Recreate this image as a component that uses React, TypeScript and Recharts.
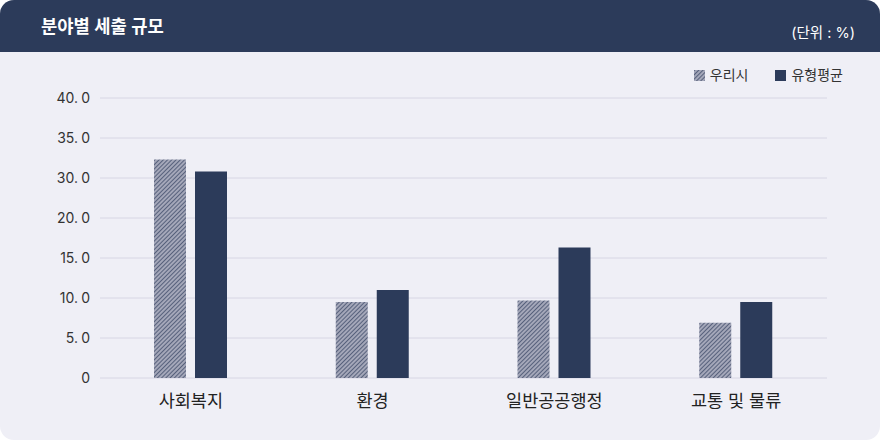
import React from "react";
import { BarChart, Bar, XAxis, YAxis, CartesianGrid } from "recharts";

const CATEGORIES = ["사회복지", "환경", "일반공공행정", "교통 및 물류"];
const OUR_CITY = [32.3, 9.5, 9.7, 6.9];
const TYPE_AVG = [30.8, 11.0, 16.3, 9.5];
const Y_TICKS = [0, 5, 10, 15, 20, 30, 35, 40];
const SERIES_NAMES = ["우리시", "유형평균"];
const TITLE = "분야별 세출 규모";
const UNIT = "(단위 : %)";

const NAVY = "#2c3b5a";
const HATCH_BG = "#a4a7b9";
const CARD_BG = "#efeff6";
const GRID = "#d7d6e4";
const FONT = "Inter, 'Noto Sans CJK KR', 'Noto Sans', sans-serif";

const data = CATEGORIES.map((c, i) => ({
  name: c,
  our: OUR_CITY[i],
  avg: TYPE_AVG[i],
}));

// Axis scale whose listed ticks are evenly spaced (piecewise linear between ticks)
function tickScale(ticks: number[], d0?: number[], r0?: number[]): any {
  let dom = d0 ? d0.slice() : [ticks[0], ticks[ticks.length - 1]];
  let rng = r0 ? r0.slice() : [0, 1];
  const n = ticks.length - 1;
  const frac = (v: number) => {
    if (v <= ticks[0]) return (v - ticks[0]) / (ticks[1] - ticks[0]) / n;
    let i = 0;
    while (i < n - 1 && v > ticks[i + 1]) i++;
    return (i + (v - ticks[i]) / (ticks[i + 1] - ticks[i])) / n;
  };
  const s: any = (v: number) => rng[0] + (rng[1] - rng[0]) * frac(Number(v));
  s.domain = (d?: number[]) => {
    if (d === undefined) return dom.slice();
    dom = d.slice();
    return s;
  };
  s.range = (r?: number[]) => {
    if (r === undefined) return rng.slice();
    rng = r.slice();
    return s;
  };
  s.copy = () => tickScale(ticks, dom, rng);
  s.ticks = () => ticks.slice();
  s.invert = (px: number) => {
    const f = (px - rng[0]) / (rng[1] - rng[0]);
    const pos = Math.max(0, Math.min(n, f * n));
    const i = Math.min(n - 1, Math.floor(pos));
    return ticks[i] + (pos - i) * (ticks[i + 1] - ticks[i]);
  };
  return s;
}

const yScale = tickScale(Y_TICKS);

const HatchDefs = ({ id }: { id: string }) => (
  <defs>
    <pattern
      id={id}
      patternUnits="userSpaceOnUse"
      width="3"
      height="3"
      patternTransform="rotate(45)"
    >
      <rect width="3" height="3" fill={HATCH_BG} />
      <line x1="0" y1="0" x2="0" y2="3" stroke={NAVY} strokeWidth="1.3" />
    </pattern>
  </defs>
);

const YTick = (props: any) => {
  const { x, y, payload } = props;
  const v = Number(payload.value);
  const label = v === 0 ? "0" : v.toFixed(1);
  const dot = label.indexOf(".");
  return (
    <text
      x={x}
      y={y}
      dy="0.355em"
      textAnchor="end"
      fill="#333"
      fontSize={14}
      fontFamily={FONT}
    >
      {dot < 0 ? (
        label
      ) : (
        <>
          <tspan>{label.slice(0, dot + 1)}</tspan>
          <tspan dx={3.5}>{label.slice(dot + 1)}</tspan>
        </>
      )}
    </text>
  );
};

export default function App() {
  return (
    <div
      style={{
        position: "fixed",
        left: 0,
        top: 0,
        width: 880,
        height: 440,
        background: "#ffffff",
      }}
    >
      <div
        style={{
          position: "absolute",
          left: 0,
          top: 0,
          width: 880,
          height: 440,
          borderRadius: 14,
          overflow: "hidden",
          background: CARD_BG,
          fontFamily: FONT,
        }}
      >
        <div
          style={{
            position: "absolute",
            left: 0,
            top: 0,
            width: 880,
            height: 52,
            background: NAVY,
          }}
        />
        <div
          style={{
            position: "absolute",
            left: 41,
            top: 14,
            lineHeight: "26px",
            fontSize: 17.7,
            fontWeight: 600,
            color: "#ffffff",
            whiteSpace: "nowrap",
          }}
        >
          {TITLE}
        </div>
        <div
          style={{
            position: "absolute",
            right: 25,
            top: 23,
            lineHeight: "20px",
            fontSize: 14.5,
            color: "#ffffff",
            whiteSpace: "nowrap",
          }}
        >
          {UNIT}
        </div>

        <div
          style={{
            position: "absolute",
            top: 65,
            right: 37,
            display: "flex",
            alignItems: "center",
            fontSize: 14,
            color: "#333",
            whiteSpace: "nowrap",
            lineHeight: "20px",
          }}
        >
          <svg width="11" height="11" style={{ marginRight: 5 }}>
            <HatchDefs id="legendHatch" />
            <rect width="11" height="11" fill="url(#legendHatch)" />
          </svg>
          <span>{SERIES_NAMES[0]}</span>
          <span
            style={{
              display: "inline-block",
              width: 11,
              height: 11,
              background: NAVY,
              marginLeft: 27,
              marginRight: 5,
            }}
          />
          <span>{SERIES_NAMES[1]}</span>
        </div>

        <div style={{ position: "absolute", left: 0, top: 0 }}>
          <BarChart
            width={880}
            height={440}
            data={data}
            margin={{ top: 98, right: 53, bottom: 32, left: 0 }}
            barGap={9}
            barSize={32}
          >
            <HatchDefs id="barHatch" />
            <CartesianGrid vertical={false} stroke={GRID} strokeWidth={1} />
            <XAxis
              dataKey="name"
              axisLine={false}
              tickLine={false}
              height={30}
              tickMargin={11}
              interval={0}
              tick={{ fill: "#222", fontSize: 17.5, fontFamily: FONT }}
            />
            <YAxis
              type="number"
              domain={[0, 40]}
              ticks={Y_TICKS}
              scale={yScale}
              interval={0}
              width={100}
              axisLine={false}
              tickLine={false}
              tickMargin={4}
              tick={<YTick />}
            />
            <Bar
              dataKey="our"
              name={SERIES_NAMES[0]}
              fill="url(#barHatch)"
              isAnimationActive={false}
            />
            <Bar
              dataKey="avg"
              name={SERIES_NAMES[1]}
              fill={NAVY}
              isAnimationActive={false}
            />
          </BarChart>
        </div>
      </div>
    </div>
  );
}
